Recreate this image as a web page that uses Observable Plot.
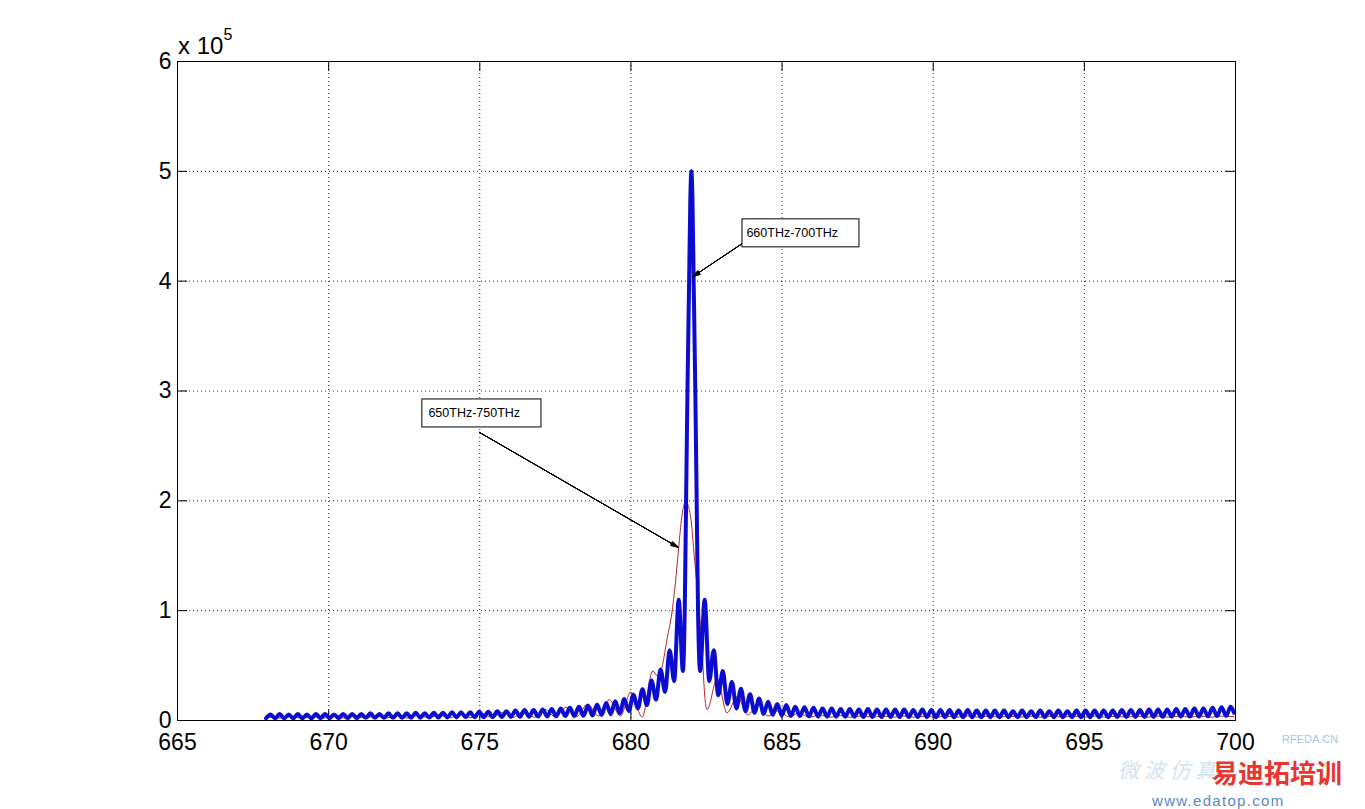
<!DOCTYPE html>
<html><head><meta charset="utf-8">
<script src="https://cdn.jsdelivr.net/npm/d3@7"></script>
<script src="https://cdn.jsdelivr.net/npm/@observablehq/plot@0.6"></script>
<style>
body{margin:0;background:#fff;width:1365px;height:809px;overflow:hidden;position:relative;font-family:"Liberation Sans",Arial,sans-serif;}
#chart{position:absolute;left:0;top:0}
.wm{position:absolute;white-space:nowrap;line-height:1}
</style></head><body>
<div id="chart"></div>
<div class="wm" style="left:1282px;top:734px;font-size:11px;color:#a9c4e6;">RFEDA.CN</div>
<div class="wm" style="left:1118px;top:759px;font-size:21px;color:#d3e3f3;font-style:italic;font-family:'Noto Sans CJK SC';">微 波 仿 真</div>
<div class="wm" style="left:1212px;top:759px;font-size:26px;color:#e8352f;font-weight:bold;font-family:'Noto Sans CJK SC';">易迪拓培训</div>
<div class="wm" style="left:1152px;top:793px;font-size:15px;color:#5a86c2;letter-spacing:1.3px;">www.edatop.com</div>
<script>
// ---- axis ticks ----
const xTicks = [665, 670, 675, 680, 685, 690, 695, 700];
const xGrid = [670, 675, 680, 685, 690, 695];
const yTicks = [0, 1, 2, 3, 4, 5, 6];
const yGrid = [1, 2, 3, 4, 5];
const yExponent = "5";

// ---- blue series (660THz-700THz), amplitude in units of 1e5 ----
const blueFreq = [
 667.93,668.08,668.23,668.38,668.53,668.68,668.83,668.98,669.13,669.28,669.43,669.58,669.73,669.88,670.03,670.18,
 670.33,670.48,670.63,670.78,670.93,671.08,671.23,671.38,671.53,671.68,671.83,671.98,672.13,672.28,672.43,672.58,
 672.73,672.88,673.03,673.18,673.33,673.48,673.63,673.78,673.93,674.08,674.23,674.38,674.53,674.68,674.83,674.98,
 675.13,675.28,675.43,675.58,675.73,675.88,676.03,676.18,676.33,676.48,676.63,676.78,676.93,677.08,677.23,677.38,
 677.53,677.68,677.83,677.98,678.13,678.28,678.43,678.58,678.73,678.88,679.03,679.18,679.33,679.48,679.63,679.78,
 679.93,680.08,680.23,680.38,680.53,680.68,680.83,680.98,681.13,681.28,681.43,681.58,
 681.72,681.78,681.825,681.87,681.925,681.965,682.0,682.035,682.075,682.13,682.175,682.22,682.29,
 682.44,682.59,682.74,682.89,683.04,683.19,683.34,683.49,683.64,683.79,683.94,684.09,684.24,684.39,684.54,684.69,
 684.84,684.99,685.14,685.29,685.44,685.59,685.74,685.89,686.04,686.19,686.34,686.49,686.64,686.79,686.94,687.09,
 687.24,687.39,687.54,687.69,687.84,687.99,688.14,688.29,688.44,688.59,688.74,688.89,689.04,689.19,689.34,689.49,
 689.64,689.79,689.94,690.09,690.24,690.39,690.54,690.69,690.84,690.99,691.14,691.29,691.44,691.59,691.74,691.89,
 692.04,692.19,692.34,692.49,692.64,692.79,692.94,693.09,693.24,693.39,693.54,693.69,693.84,693.99,694.14,694.29,
 694.44,694.59,694.74,694.89,695.04,695.19,695.34,695.49,695.64,695.79,695.94,696.09,696.24,696.39,696.54,696.69,
 696.84,696.99,697.14,697.29,697.44,697.59,697.74,697.89,698.04,698.19,698.34,698.49,698.64,698.79,698.94,699.09,
 699.24,699.39,699.54,699.69,699.84,699.95
];
const blueAmp = [
 0.02,0.055,0.02,0.06,0.02,0.055,0.02,0.06,0.02,0.055,0.02,0.06,0.022,0.06,0.022,0.055,
 0.022,0.06,0.022,0.06,0.022,0.06,0.024,0.065,0.024,0.06,0.024,0.065,0.025,0.065,0.025,0.065,
 0.026,0.07,0.026,0.065,0.027,0.07,0.027,0.07,0.028,0.075,0.028,0.075,0.029,0.075,0.03,0.08,
 0.03,0.08,0.031,0.085,0.032,0.085,0.033,0.09,0.034,0.095,0.035,0.095,0.036,0.10,0.037,0.105,
 0.038,0.11,0.04,0.115,0.041,0.125,0.043,0.135,0.045,0.145,0.05,0.16,0.058,0.175,0.068,0.195,
 0.085,0.235,0.11,0.285,0.14,0.365,0.19,0.465,0.26,0.64,0.36,1.10,
 0.45,1.0,2.0,3.0,4.0,4.75,5.0,4.75,4.0,3.0,2.0,1.0,0.45,
 1.10,0.36,0.64,0.23,0.45,0.15,0.35,0.11,0.29,0.085,0.24,0.07,0.20,0.06,0.17,0.052,
 0.15,0.046,0.14,0.042,0.125,0.04,0.12,0.038,0.115,0.036,0.11,0.035,0.11,0.035,0.105,0.034,
 0.105,0.034,0.10,0.033,0.105,0.033,0.10,0.032,0.10,0.032,0.10,0.032,0.10,0.031,0.095,0.031,
 0.10,0.031,0.095,0.03,0.095,0.03,0.095,0.03,0.09,0.03,0.095,0.03,0.09,0.03,0.09,0.03,
 0.09,0.03,0.09,0.03,0.085,0.03,0.09,0.03,0.085,0.03,0.09,0.03,0.085,0.03,0.09,0.03,
 0.085,0.03,0.09,0.03,0.09,0.03,0.09,0.03,0.09,0.03,0.09,0.032,0.095,0.032,0.095,0.032,
 0.095,0.033,0.10,0.033,0.10,0.034,0.10,0.035,0.105,0.035,0.105,0.036,0.11,0.037,0.11,0.038,
 0.115,0.04,0.12,0.042,0.125,0.07
];

// ---- red series (650THz-750THz), amplitude in units of 1e5 ----
const redFreq = [
 668.0,668.41,668.76,669.11,669.46,669.81,670.16,670.51,670.86,671.21,671.56,671.91,672.26,672.61,672.96,673.31,
 673.66,674.01,674.36,674.71,675.06,675.41,675.76,676.11,676.46,676.81,677.16,677.51,677.86,678.21,678.56,678.93,
 679.28,679.65,680.0,680.37,680.72,680.9,681.04,681.2,681.35,681.47,681.58,681.68,681.76,681.82,681.9,682.0,
 682.07,682.17,682.27,682.37,682.45,682.52,682.85,683.18,683.52,683.86,684.2,684.54,684.88,685.22,685.56,685.9,
 686.24,686.58,686.93,687.28,687.63,687.98,688.33,688.68,689.03,689.38,689.73,690.08,690.43,690.78,691.13,691.48,
 691.83,692.18,692.53,692.88,693.23,693.58,693.93,694.28,694.63,694.98,695.33,695.68,696.03,696.38,696.73,697.08,
 697.43,697.78,698.13,698.48,698.83,699.18,699.53,699.95
];
const redAmp = [
 0.03,0.022,0.035,0.022,0.036,0.022,0.038,0.022,0.04,0.022,0.042,0.023,0.045,0.023,0.048,0.024,
 0.052,0.025,0.058,0.025,0.065,0.027,0.075,0.028,0.085,0.03,0.10,0.03,0.12,0.035,0.15,0.04,
 0.19,0.04,0.26,0.03,0.45,0.40,0.50,0.75,0.97,1.25,1.575,1.85,1.97,2.0,1.95,1.8,
 1.575,1.28,0.97,0.55,0.2,0.1,0.38,0.07,0.22,0.05,0.14,0.04,0.09,0.035,0.065,0.03,
 0.05,0.03,0.045,0.03,0.042,0.03,0.04,0.03,0.04,0.03,0.04,0.03,0.04,0.03,0.04,0.03,
 0.04,0.03,0.04,0.03,0.04,0.03,0.04,0.03,0.04,0.03,0.04,0.03,0.04,0.03,0.04,0.03,
 0.04,0.03,0.04,0.03,0.04,0.03,0.04,0.035
];

// ---- annotations (data coordinates) ----
const annoLabel = ["660THz-700THz", "650THz-750THz"];
const boxX1 = [683.69, 673.10], boxX2 = [687.56, 677.04];
const boxY1 = [4.308, 2.668], boxY2 = [4.563, 2.923];
const textX = [683.82, 673.30], textY = [4.435, 2.796];
const arrowX1 = [683.69, 674.99], arrowY1 = [4.344, 2.623];
const arrowX2 = [682.04, 681.57], arrowY2 = [4.04, 1.576];

const W = 1365, H = 809, mL = 177, mR = 130, mT = 61, mB = 89;
const innerW = W - mL - mR, innerH = H - mT - mB;
const FONT = '"Liberation Sans", Arial, sans-serif';

const blue = blueFreq.map((f, i) => ({f, a: blueAmp[i]}));
const red = redFreq.map((f, i) => ({f, a: redAmp[i]}));
const anno = annoLabel.map((label, i) => ({
  label, bx1: boxX1[i], bx2: boxX2[i], by1: boxY1[i], by2: boxY2[i],
  tx: textX[i], ty: textY[i], ax1: arrowX1[i], ay1: arrowY1[i], ax2: arrowX2[i], ay2: arrowY2[i]
}));

const gridStyle = {stroke: "#222", strokeOpacity: 1, strokeWidth: 1, strokeDasharray: "1,3"};
const arrowMarks = [34, 24, 14, 6].map(a => Plot.arrow(anno, {
  x1: "ax1", y1: "ay1", x2: "ax2", y2: "ay2", headAngle: a, headLength: 12, stroke: "black", strokeWidth: 1
}));

const plot = Plot.plot({
  width: W, height: H,
  marginLeft: mL, marginRight: mR, marginTop: mT, marginBottom: mB,
  x: {domain: [665, 700]},
  y: {domain: [0, 6]},
  style: {background: "white", fontFamily: FONT, color: "black"},
  marks: [
    Plot.gridX({ticks: xGrid, ...gridStyle}),
    Plot.gridY({ticks: yGrid, ...gridStyle}),
    Plot.tickX(xTicks, {x: d => d, stroke: "black", insetTop: innerH - 10}),
    Plot.tickX(xTicks, {x: d => d, stroke: "black", insetBottom: innerH - 10}),
    Plot.tickY(yTicks, {y: d => d, stroke: "black", insetRight: innerW - 10}),
    Plot.tickY(yTicks, {y: d => d, stroke: "black", insetLeft: innerW - 10}),
    Plot.line(red, {x: "f", y: "a", stroke: "#b4262a", strokeWidth: 1, curve: "monotone-x", clip: true}),
    Plot.line(blue, {x: "f", y: "a", stroke: "#0c0cd0", strokeWidth: 4, curve: "monotone-x", clip: true}),
    Plot.frame({stroke: "black"}),
    Plot.axisX({ticks: xTicks, tickSize: 0, tickPadding: 13, fontSize: 23, label: null, tickFormat: d => String(d)}),
    Plot.axisY({ticks: yTicks, tickSize: 0, tickPadding: 6, fontSize: 23, label: null, tickFormat: d => String(d)}),
    ...arrowMarks,
    Plot.rect(anno, {x1: "bx1", x2: "bx2", y1: "by1", y2: "by2", fill: "white", stroke: "black", strokeWidth: 1}),
    Plot.text(anno, {x: "tx", y: "ty", text: "label", textAnchor: "start", fontSize: 12.5, fill: "black"})
  ]
});

document.getElementById("chart").appendChild(plot);

// exponent label "x 10^5" above the y axis
const xs = plot.scale("x"), ys = plot.scale("y");
const lab = d3.select(plot).append("text")
  .attr("x", xs.apply(665) + 1)
  .attr("y", ys.apply(6) - 7)
  .attr("text-anchor", "start")
  .attr("font-size", 24)
  .attr("font-family", FONT)
  .attr("fill", "black");
lab.append("tspan").text("x 10");
lab.append("tspan").attr("dy", -14).attr("font-size", 16).text(yExponent);
</script>
</body></html>
